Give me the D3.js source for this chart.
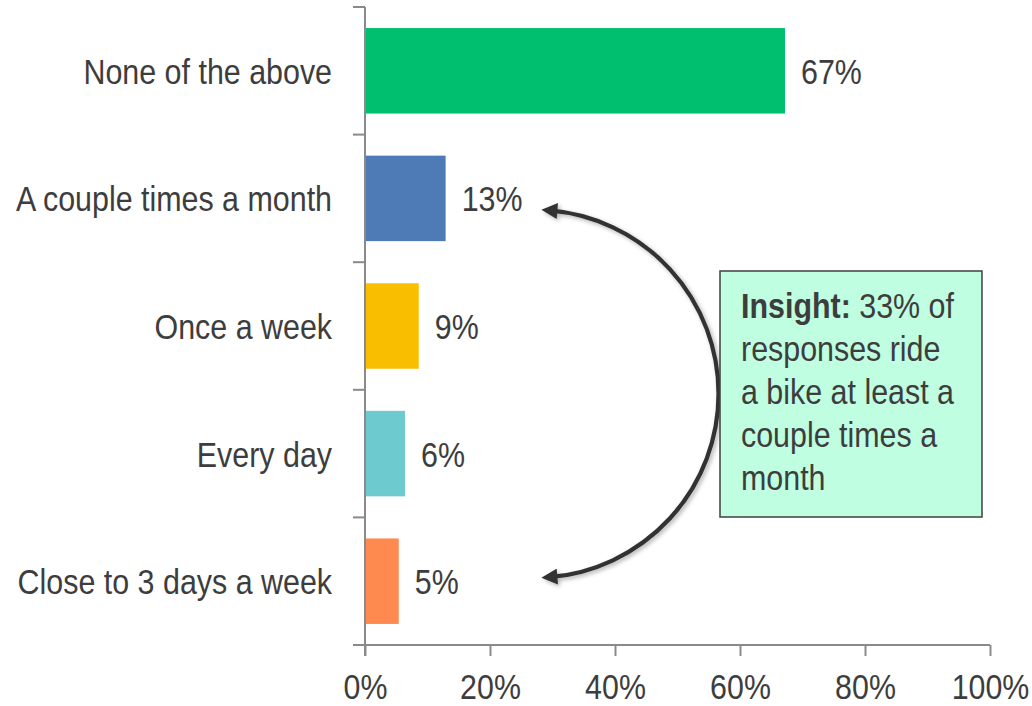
<!DOCTYPE html>
<html>
<head>
<meta charset="utf-8">
<script src="https://cdn.jsdelivr.net/npm/d3@7"></script>
<style>
  html, body { margin: 0; padding: 0; background: #fff; }
  svg text { font-family: "Liberation Sans", Arial, sans-serif; fill: #3d3d3d; }
</style>
</head>
<body>
<svg id="chart" width="1032" height="706"></svg>
<script>
const categories = ["None of the above", "A couple times a month", "Once a week", "Every day", "Close to 3 days a week"];
const values = [0.672, 0.129, 0.086, 0.064, 0.054];
const valueLabels = ["67%", "13%", "9%", "6%", "5%"];
const barColors = ["#00BF6F", "#4E7BB6", "#F9BE00", "#6DCACE", "#FF8A50"];
const xTicks = [0, 0.2, 0.4, 0.6, 0.8, 1];
const insightBold = "Insight:";
const insightLines = [" 33% of", "responses ride", "a bike at least a", "couple times a", "month"];

const W = 1032, H = 706;
const FS = 36, SX = 0.845;
const svg = d3.select("#chart");
svg.append("rect").attr("width", W).attr("height", H).attr("fill", "#fff");

const x = d3.scaleLinear().domain([0, 1]).range([365, 990]);
const y = d3.scaleBand().domain(categories).range([7, 645]).paddingInner(0.33).paddingOuter(0.165);
const step = y.step();
const axisColor = "#8a8a8a";

function narrowText(sel, tx, ty, fs = FS, sx = SX) {
  sel.attr("transform", `translate(${tx},${ty}) scale(${sx},1)`).style("font-size", fs + "px");
}

// bars
svg.append("g").selectAll("rect").data(categories).join("rect")
  .attr("x", x(0))
  .attr("y", d => y(d))
  .attr("width", (d, i) => x(values[i]) - x(0))
  .attr("height", y.bandwidth())
  .attr("fill", (d, i) => barColors[i]);

// value labels
svg.append("g").selectAll("text").data(categories).join("text")
  .text((d, i) => valueLabels[i])
  .attr("text-anchor", "start")
  .each(function (d, i) {
    narrowText(d3.select(this), x(values[i]) + 16, y(d) + y.bandwidth() / 2 + 13);
  });

// category labels
svg.append("g").selectAll("text").data(categories).join("text")
  .text(d => d)
  .attr("text-anchor", "end")
  .each(function (d) {
    narrowText(d3.select(this), 332, y(d) + y.bandwidth() / 2 + 13);
  });

// y axis line + boundary ticks
const yTop = y.range()[0], yBot = y.range()[1];
svg.append("line").attr("x1", x(0)).attr("x2", x(0)).attr("y1", yTop).attr("y2", yBot + 11)
  .attr("stroke", axisColor).attr("stroke-width", 2);
const bounds = categories.map(c => y(c) - step * y.paddingInner() / 2);
svg.append("g").selectAll("line").data(bounds).join("line")
  .attr("x1", x(0) - 12).attr("x2", x(0)).attr("y1", d => d).attr("y2", d => d)
  .attr("stroke", axisColor).attr("stroke-width", 2);

// x axis
svg.append("line").attr("x1", x(0) - 12).attr("x2", x(1)).attr("y1", yBot).attr("y2", yBot)
  .attr("stroke", axisColor).attr("stroke-width", 2);
const xAxis = d3.axisBottom(x).tickValues(xTicks).tickFormat(d3.format(".0%")).tickSize(11).tickSizeOuter(0);
const gx = svg.append("g").attr("transform", `translate(0,${yBot})`).call(xAxis);
gx.select(".domain").remove();
gx.selectAll(".tick line").attr("stroke", axisColor).attr("stroke-width", 2);
gx.selectAll(".tick text")
  .attr("y", null).attr("dy", null).attr("fill", "#3d3d3d")
  .attr("text-anchor", "middle")
  .style("font-family", '"Liberation Sans", Arial, sans-serif')
  .each(function () { narrowText(d3.select(this), 0, 53.5, 34.5, 0.88); });

// arrow annotation
const defs = svg.append("defs");
const shadow = defs.append("filter").attr("id", "shadow").attr("x", "-20%").attr("y", "-20%").attr("width", "140%").attr("height", "140%");
shadow.append("feDropShadow").attr("dx", 2).attr("dy", 2).attr("stdDeviation", 2).attr("flood-color", "#000").attr("flood-opacity", 0.3);
["start", "end"].forEach(k => {
  defs.append("marker").attr("id", "arrow-" + k)
    .attr("viewBox", "0 0 10 10").attr("refX", 5).attr("refY", 5)
    .attr("markerWidth", 4.4).attr("markerHeight", 3.8).attr("markerUnits", "strokeWidth")
    .attr("orient", k === "start" ? "auto-start-reverse" : "auto")
    .append("path").attr("d", "M0,0 L10,5 L0,10 Z").attr("fill", "#333");
});
const topCat = categories[1], botCat = categories[4];
const ay1 = y(topCat) + y.bandwidth() / 2 + 12;
const ay2 = y(botCat) + y.bandwidth() / 2 - 4;
const ax = x(0.295);
const r = 184;
svg.append("path")
  .attr("d", `M${ax},${ay1} A${r},${r} 0 0 1 ${ax},${ay2}`)
  .attr("fill", "none").attr("stroke", "#333").attr("stroke-width", 4.2)
  .attr("marker-start", "url(#arrow-start)").attr("marker-end", "url(#arrow-end)")
  .attr("filter", "url(#shadow)");

// insight box
const box = { x0: 720, y0: 271, x1: 982, y1: 517 };
svg.append("rect").attr("x", box.x0).attr("y", box.y0).attr("width", box.x1 - box.x0).attr("height", box.y1 - box.y0)
  .attr("fill", "#BFFEE0").attr("stroke", "#404040").attr("stroke-width", 1.5);
insightLines.forEach((line, i) => {
  const t = svg.append("text").attr("text-anchor", "start");
  narrowText(t, 741, 318 + i * 43);
  if (i === 0) {
    t.append("tspan").attr("font-weight", "bold").text(insightBold);
  }
  t.append("tspan").text(line);
});
</script>
</body>
</html>
